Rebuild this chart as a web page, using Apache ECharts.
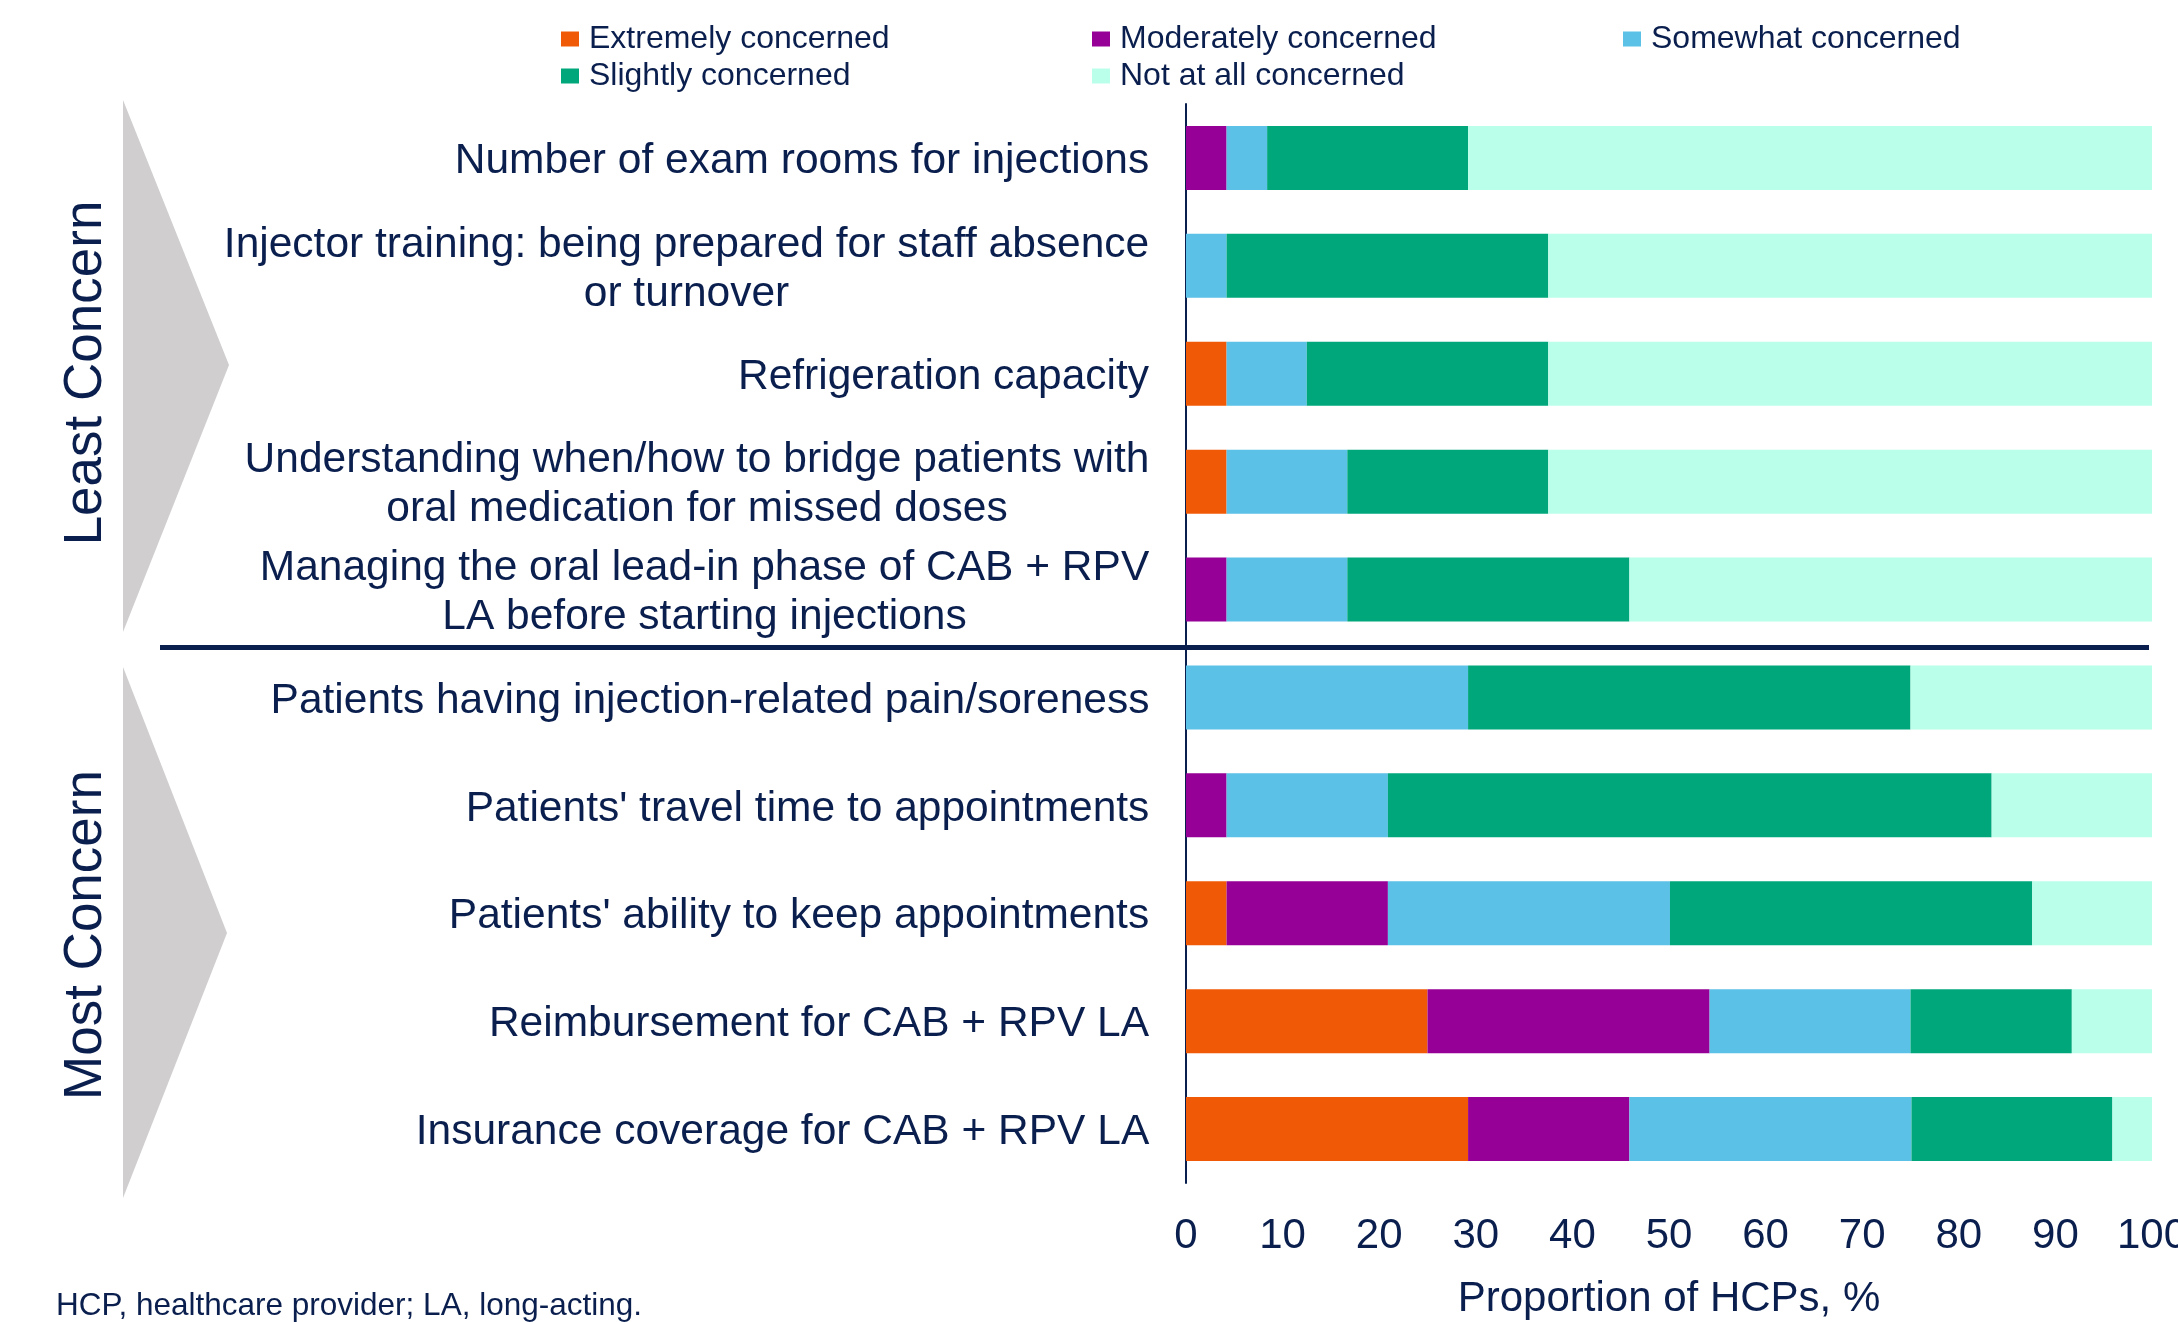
<!DOCTYPE html>
<html>
<head>
<meta charset="utf-8">
<script src="https://cdn.jsdelivr.net/npm/echarts@6/dist/echarts.min.js"></script>
<style>
  html, body { margin: 0; padding: 0; background: #fff; }
  #chart { width: 2178px; height: 1322px; }
</style>
</head>
<body>
<div id="chart"></div>
<script>
// categories, top to bottom
var categories = [
  "Number of exam rooms for injections",
  "Injector training: being prepared for staff absence\nor turnover",
  "Refrigeration capacity",
  "Understanding when/how to bridge patients with\noral medication for missed doses",
  "Managing the oral lead-in phase of CAB + RPV\nLA before starting injections",
  "Patients having injection-related pain/soreness",
  "Patients' travel time to appointments",
  "Patients' ability to keep appointments",
  "Reimbursement for CAB + RPV LA",
  "Insurance coverage for CAB + RPV LA"
];

// proportion of HCPs, %
var extremely  = [0,    0,    4.2,  4.2,  0,    0,    0,    4.2,  25.0, 29.2];
var moderately = [4.2,  0,    0,    0,    4.2,  0,    4.2,  16.7, 29.2, 16.7];
var somewhat   = [4.2,  4.2,  8.3,  12.5, 12.5, 29.2, 16.7, 29.2, 20.8, 29.2];
var slightly   = [20.8, 33.3, 25.0, 20.8, 29.2, 45.8, 62.5, 37.5, 16.7, 20.8];
var notAtAll   = [70.8, 62.5, 62.5, 62.5, 54.2, 25.0, 16.7, 12.5, 8.3,  4.2];

var seriesNames = ["Extremely concerned", "Moderately concerned", "Somewhat concerned",
                   "Slightly concerned", "Not at all concerned"];
var seriesData = [extremely, moderately, somewhat, slightly, notAtAll];
var seriesColors = ["#F05A06", "#960096", "#5BC1E6", "#00A77B", "#BAFFEA"];

var navy = "#0A1F4E";
var font = "Liberation Sans, Arial, sans-serif";
var labelSize = 42.5;

var chart = echarts.init(document.getElementById("chart"));

// multi-line labels are centred line by line, block right-aligned to the axis
var ctx = document.createElement("canvas").getContext("2d");
ctx.font = labelSize + 'px "Liberation Sans", Arial, sans-serif';
var rich = {};
categories.forEach(function (c, i) {
  var w = Math.max.apply(null, c.split("\n").map(function (l) { return ctx.measureText(l).width; }));
  rich["c" + i] = { width: Math.ceil(w) + 1, align: "center", fontSize: labelSize, fontFamily: font, color: navy, lineHeight: 49 };
});

var legendCommon = {
  orient: "vertical",
  top: 18,
  icon: "rect",
  itemWidth: 18,
  itemHeight: 15,
  itemGap: 5,
  selectedMode: false,
  textStyle: { fontSize: 32, color: navy, fontFamily: font, lineHeight: 32, padding: [0, 0, 0, 5] }
};

var option = {
  backgroundColor: "#fff",
  animation: false,
  textStyle: { fontFamily: font },
  legend: [
    Object.assign({ left: 556, data: [seriesNames[0], seriesNames[3]] }, legendCommon),
    Object.assign({ left: 1087, data: [seriesNames[1], seriesNames[4]] }, legendCommon),
    Object.assign({ left: 1618, data: [seriesNames[2]] }, legendCommon)
  ],
  grid: { left: 1186, right: 26, top: 104, bottom: 139, containLabel: false, outerBoundsMode: "none" },
  xAxis: {
    type: "value",
    min: 0,
    max: 100,
    interval: 10,
    name: "Proportion of HCPs, %",
    nameLocation: "middle",
    nameGap: 95,
    nameTextStyle: { fontSize: 42, color: navy, fontFamily: font },
    axisLine: { show: false },
    axisTick: { show: false },
    splitLine: { show: false },
    axisLabel: { fontSize: 42, color: navy, fontFamily: font, margin: 32 }
  },
  yAxis: {
    type: "category",
    inverse: true,
    data: categories,
    axisLine: { show: true, lineStyle: { color: navy, width: 2 } },
    axisTick: { show: false },
    axisLabel: {
      interval: 0,
      margin: 36,
      padding: [7, 0, 0, 0],
      formatter: function (value, index) {
        return value.split("\n").map(function (l) { return "{c" + index + "|" + l + "}"; }).join("\n");
      },
      rich: rich
    }
  },
  series: seriesNames.map(function (name, i) {
    return {
      name: name,
      type: "bar",
      stack: "total",
      barWidth: 64,
      itemStyle: { color: seriesColors[i] },
      data: seriesData[i]
    };
  })
};

chart.setOption(option);

// separator between the two groups, placed between category 5 and 6
var ySep = (chart.convertToPixel({ yAxisIndex: 0 }, 4) + chart.convertToPixel({ yAxisIndex: 0 }, 5)) / 2 + 4;
var gray = "#D0CECF";

chart.setOption({
  graphic: [
    { type: "polygon", z: 0, shape: { points: [[123, 100], [229, 365], [123, 632]] }, style: { fill: gray } },
    { type: "polygon", z: 0, shape: { points: [[123, 667], [227, 933], [123, 1198]] }, style: { fill: gray } },
    { type: "line", z: 10, shape: { x1: 160, y1: ySep, x2: 2149, y2: ySep }, style: { stroke: navy, lineWidth: 5 } },
    {
      type: "text", x: 86, y: 373, rotation: Math.PI / 2,
      style: { text: "Least Concern", fontSize: 53, fontFamily: font, fill: navy, textAlign: "center", textVerticalAlign: "middle" }
    },
    {
      type: "text", x: 86, y: 935, rotation: Math.PI / 2,
      style: { text: "Most Concern", fontSize: 53, fontFamily: font, fill: navy, textAlign: "center", textVerticalAlign: "middle" }
    },
    {
      type: "text", x: 56, y: 1306,
      style: { text: "HCP, healthcare provider; LA, long-acting.", fontSize: 31.5, fontFamily: font, fill: navy, textAlign: "left", textVerticalAlign: "middle" }
    }
  ]
});
</script>
</body>
</html>
